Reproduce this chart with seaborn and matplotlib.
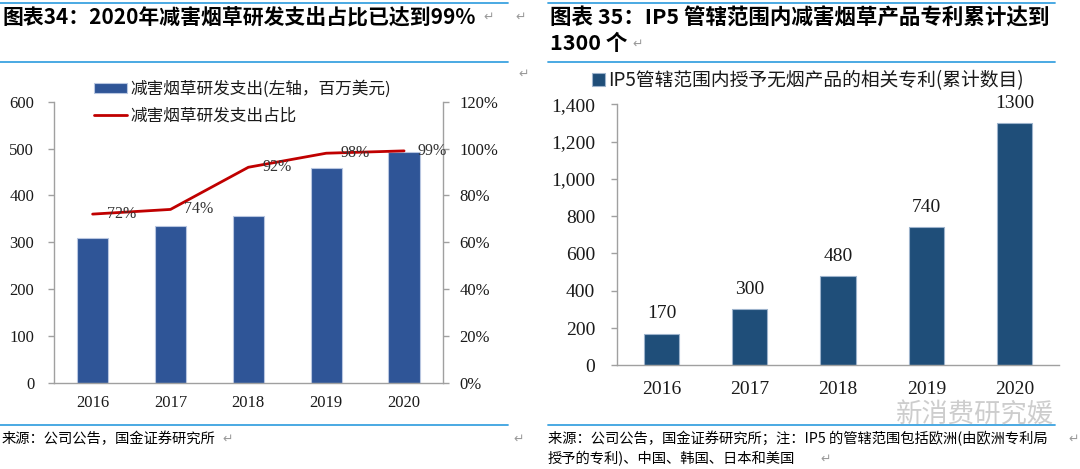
import numpy as np
import pandas as pd
import matplotlib
matplotlib.use("Agg")
import matplotlib.pyplot as plt
import matplotlib.ticker as mticker
from matplotlib.lines import Line2D
import seaborn as sns

# ---------------- data ----------------
years = ["2016", "2017", "2018", "2019", "2020"]
rrp_rd_spend = [310, 335, 355, 458, 493]          # 百万美元 (left axis)
rrp_rd_share = [0.72, 0.74, 0.92, 0.98, 0.99]      # 占比 (right axis)
share_labels = ["72%", "74%", "92%", "98%", "99%"]

patent_years = ["2016", "2017", "2018", "2019", "2020"]
patent_counts = [170, 300, 480, 740, 1300]

left_yticks = [0, 100, 200, 300, 400, 500, 600]
right_pct_ticks = [0, 0.2, 0.4, 0.6, 0.8, 1.0, 1.2]
patent_yticks = [0, 200, 400, 600, 800, 1000, 1200, 1400]

title_left = "图表34：2020年减害烟草研发支出占比已达到99%"
title_right_1 = "图表 35：IP5 管辖范围内减害烟草产品专利累计达到"
title_right_2 = "1300 个"
legend_bar = "减害烟草研发支出(左轴，百万美元)"
legend_line = "减害烟草研发支出占比"
legend_patent = "IP5管辖范围内授予无烟产品的相关专利(累计数目)"
source_left = "来源：公司公告，国金证券研究所"
source_right_1 = "来源：公司公告，国金证券研究所；注：IP5 的管辖范围包括欧洲(由欧洲专利局"
source_right_2 = "授予的专利)、中国、韩国、日本和美国"
watermark = "新消费研究媛"

# ---------------- style ----------------
sns.set_style("white")
CJK = ["Noto Sans CJK SC", "DejaVu Sans"]
SERIF = ["Liberation Serif", "DejaVu Serif"]
plt.rcParams["font.family"] = CJK
plt.rcParams["axes.unicode_minus"] = False

BLUE_L = "#2F5597"
BLUE_R = "#1F4E79"
RED = "#C00000"
SPINE = "#A0A0A0"
TXT = "#1A1A1A"
RULE = "#3BA3E0"

W, H = 1080, 469
fig = plt.figure(figsize=(W / 100, H / 100), dpi=100)
fig.patch.set_facecolor("white")


def fx(px):
    return px / W


def fy(py):
    return 1 - py / H


# ---------------- left chart ----------------
axL = fig.add_axes([fx(53.7), fy(382.7), fx(443 - 53.7), (382.7 - 101.7) / H])
df_l = pd.DataFrame({"year": years, "spend": rrp_rd_spend, "share": rrp_rd_share,
                     "pos": np.arange(len(years))})
sns.barplot(data=df_l, x="year", y="spend", ax=axL, color=BLUE_L, saturation=1,
            width=0.4, edgecolor="#B8C6E0", linewidth=0.8, label=legend_bar)
if axL.get_legend() is not None:
    axL.get_legend().remove()
axL.set_ylim(0, 600)
axL.set_yticks(left_yticks)
axL.set_xlim(-0.5, len(years) - 0.5)
axL.set_xlabel("")
axL.set_ylabel("")

axR = axL.twinx()
sns.lineplot(data=df_l, x="pos", y="share", ax=axR, color=RED, linewidth=2.0,
             legend=False)
axR.set_ylim(0, 1.2)
axR.set_yticks(right_pct_ticks)
axR.yaxis.set_major_formatter(mticker.PercentFormatter(1.0, decimals=0))
axR.set_xlim(-0.5, len(years) - 0.5)
axR.set_ylabel("")
axR.set_xlabel("")

for xi, yi, lab in zip(df_l["pos"], rrp_rd_share, share_labels):
    axR.annotate(lab, (xi, yi), xytext=(10, 0), textcoords="offset points",
                 ha="left", va="center", fontsize=11.5, family=SERIF, color="#333333")

for ax in (axL, axR):
    for s in ax.spines.values():
        s.set_color(SPINE)
        s.set_linewidth(1.0)
    ax.spines["top"].set_visible(False)
    ax.set_facecolor("none")
axL.spines["right"].set_visible(False)
axR.spines["left"].set_visible(False)
axR.spines["bottom"].set_visible(False)

axL.set_xticks(np.arange(len(years)))
axL.set_xticklabels(years)
axL.set_xticks(np.arange(-0.5, len(years)), minor=True)
axL.tick_params(axis="x", which="major", length=0, pad=9, labelsize=12, labelcolor=TXT)
axL.tick_params(axis="x", which="minor", length=4, width=1, color=SPINE, direction="out")
axL.tick_params(axis="y", length=4, width=1, color=SPINE, direction="out", pad=10,
                labelsize=12, labelcolor=TXT, left=True)
axR.tick_params(axis="y", length=4, width=1, color=SPINE, direction="out", pad=8,
                labelsize=12, labelcolor=TXT, right=True)
for lab in axL.get_xticklabels() + axL.get_yticklabels() + axR.get_yticklabels():
    lab.set_family(SERIF)

hb = [axL.containers[0].patches[0]]
hl = [Line2D([0], [0], color=RED, lw=2.0)]
fig.legend(hb + hl, [legend_bar, legend_line], loc="upper left",
           bbox_to_anchor=(fx(94), fy(80)), frameon=False, fontsize=12,
           handlelength=2.0, handleheight=0.55, handletextpad=0.2,
           labelspacing=0.62, borderpad=0, borderaxespad=0, labelcolor=TXT)

# ---------------- right chart ----------------
axP = fig.add_axes([fx(617.3), fy(365.3), fx(1059 - 617.3), (365.3 - 104.3) / H])
df_p = pd.DataFrame({"year": patent_years, "count": patent_counts})
sns.barplot(data=df_p, x="year", y="count", ax=axP, color=BLUE_R, saturation=1,
            width=0.4, edgecolor="#9DB3CC", linewidth=0.8, label=legend_patent)
if axP.get_legend() is not None:
    axP.get_legend().remove()
axP.set_ylim(0, 1400)
axP.set_yticks(patent_yticks)
axP.yaxis.set_major_formatter(mticker.StrMethodFormatter("{x:,.0f}"))
axP.set_xlim(-0.5, len(patent_years) - 0.5)
axP.set_xlabel("")
axP.set_ylabel("")
axP.bar_label(axP.containers[0], labels=[str(v) for v in patent_counts], padding=8,
              fontsize=14, family=SERIF, color=TXT)
for s in axP.spines.values():
    s.set_color(SPINE)
    s.set_linewidth(1.0)
axP.spines["top"].set_visible(False)
axP.spines["right"].set_visible(False)
axP.set_xticks(np.arange(len(patent_years)))
axP.set_xticklabels(patent_years)
axP.set_xticks(np.arange(-0.5, len(patent_years)), minor=True)
axP.tick_params(axis="x", which="major", length=0, pad=11, labelsize=14, labelcolor=TXT)
axP.tick_params(axis="x", which="minor", length=4, width=1, color=SPINE, direction="out")
axP.tick_params(axis="y", length=4, width=1, color=SPINE, direction="out", pad=12,
                labelsize=14, labelcolor=TXT, left=True)
for lab in axP.get_xticklabels() + axP.get_yticklabels():
    lab.set_family(SERIF)

hp = [axP.containers[0].patches[0]]
fig.legend(hp, [legend_patent], loc="center left", bbox_to_anchor=(fx(592), fy(80.7)),
           frameon=False, fontsize=13.5, handlelength=0.7, handleheight=0.7,
           handletextpad=0.15, borderpad=0, borderaxespad=0, labelcolor=TXT)

# ---------------- page decorations ----------------
for (x0, x1) in [(0, 508), (548, 1055)]:
    for yy in (3, 62, 425):
        fig.add_artist(Line2D([fx(x0), fx(x1)], [fy(yy), fy(yy)], color=RULE, lw=1.3))

fig.text(fx(2), fy(18), title_left, fontsize=15, fontweight="bold", family=CJK,
         ha="left", va="center", color="black")
fig.text(fx(550), fy(18), title_right_1, fontsize=15.5, fontweight="bold", family=CJK,
         ha="left", va="center", color="black")
fig.text(fx(550), fy(44), title_right_2, fontsize=15.5, fontweight="bold", family=CJK,
         ha="left", va="center", color="black")

fig.text(fx(2), fy(439), source_left, fontsize=10.3, family=CJK, ha="left", va="center",
         color="black")
fig.text(fx(548), fy(439), source_right_1, fontsize=10.3, family=CJK, ha="left",
         va="center", color="black")
fig.text(fx(548), fy(459), source_right_2, fontsize=10.3, family=CJK, ha="left",
         va="center", color="black")

# paragraph marks
for (px, py) in [(483, 17), (515, 17), (632, 44), (518, 74), (222, 439), (513, 439),
                 (1068, 439), (820, 459)]:
    fig.text(fx(px), fy(py), "↵", fontsize=9, family=["DejaVu Sans"], color="#9A9A9A",
             ha="left", va="center")

# watermark
fig.text(fx(975), fy(415), watermark, fontsize=19, family=CJK, color="#C8C8C8",
         ha="center", va="center", alpha=0.9)

fig.savefig("out.png", dpi=100, facecolor="white")
